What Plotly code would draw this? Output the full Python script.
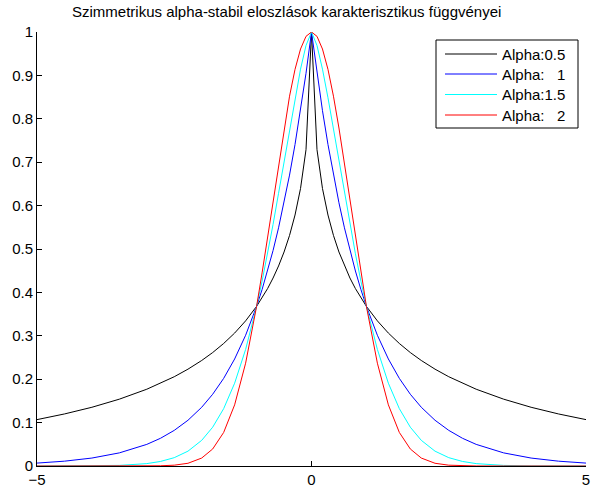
import plotly.graph_objects as go

# Data
t = [-5, -4.5, -4, -3.5, -3, -2.75, -2.5, -2.25, -2, -1.8, -1.6, -1.4, -1.2,
     -1, -0.9, -0.8, -0.7, -0.6, -0.5, -0.4, -0.3, -0.2, -0.1, 0,
     0.1, 0.2, 0.3, 0.4, 0.5, 0.6, 0.7, 0.8, 0.9, 1,
     1.2, 1.4, 1.6, 1.8, 2, 2.25, 2.5, 2.75, 3, 3.5, 4, 4.5, 5]

alpha_05 = [0.1069, 0.1199, 0.1353, 0.1540, 0.1769, 0.1905, 0.2057, 0.2231, 0.2431,
            0.2614, 0.2823, 0.3063, 0.3344, 0.3679, 0.3872, 0.4088, 0.4331, 0.4609,
            0.4931, 0.5313, 0.5783, 0.6394, 0.7289, 1.0,
            0.7289, 0.6394, 0.5783, 0.5313, 0.4931, 0.4609, 0.4331, 0.4088, 0.3872,
            0.3679, 0.3344, 0.3063, 0.2823, 0.2614, 0.2431, 0.2231, 0.2057, 0.1905,
            0.1769, 0.1540, 0.1353, 0.1199, 0.1069]

alpha_1 = [0.0067, 0.0111, 0.0183, 0.0302, 0.0498, 0.0639, 0.0821, 0.1054, 0.1353,
           0.1653, 0.2019, 0.2466, 0.3012, 0.3679, 0.4066, 0.4493, 0.4966, 0.5488,
           0.6065, 0.6703, 0.7408, 0.8187, 0.9048, 1.0,
           0.9048, 0.8187, 0.7408, 0.6703, 0.6065, 0.5488, 0.4966, 0.4493, 0.4066,
           0.3679, 0.3012, 0.2466, 0.2019, 0.1653, 0.1353, 0.1054, 0.0821, 0.0639,
           0.0498, 0.0302, 0.0183, 0.0111, 0.0067]

alpha_15 = [0.0000, 0.0001, 0.0003, 0.0014, 0.0055, 0.0105, 0.0192, 0.0342, 0.0591,
            0.0894, 0.1321, 0.1908, 0.2686, 0.3679, 0.4258, 0.4890, 0.5567, 0.6283,
            0.7022, 0.7765, 0.8485, 0.9144, 0.9689, 1.0,
            0.9689, 0.9144, 0.8485, 0.7765, 0.7022, 0.6283, 0.5567, 0.4890, 0.4258,
            0.3679, 0.2686, 0.1908, 0.1321, 0.0894, 0.0591, 0.0342, 0.0192, 0.0105,
            0.0055, 0.0014, 0.0003, 0.0001, 0.0000]

alpha_2 = [0.0, 0.0, 0.0, 0.0, 0.0001, 0.0005, 0.0019, 0.0063, 0.0183,
           0.0392, 0.0773, 0.1409, 0.2369, 0.3679, 0.4449, 0.5273, 0.6126, 0.6977,
           0.7788, 0.8521, 0.9139, 0.9608, 0.9900, 1.0,
           0.9900, 0.9608, 0.9139, 0.8521, 0.7788, 0.6977, 0.6126, 0.5273, 0.4449,
           0.3679, 0.2369, 0.1409, 0.0773, 0.0392, 0.0183, 0.0063, 0.0019, 0.0005,
           0.0001, 0.0, 0.0, 0.0, 0.0]

names = ["Alpha:0.5", "Alpha:\u00a0\u00a0\u00a01", "Alpha:1.5", "Alpha:\u00a0\u00a0\u00a02"]
series = [alpha_05, alpha_1, alpha_15, alpha_2]
colors = ["#000000", "#0000FF", "#00FFFF", "#FF0000"]

x_ticks = [-5, 0, 5]
y_ticks = [0, 0.1, 0.2, 0.3, 0.4, 0.5, 0.6, 0.7, 0.8, 0.9, 1]
y_tick_labels = ["0", "0.1", "0.2", "0.3", "0.4", "0.5", "0.6", "0.7", "0.8", "0.9", "1"]

title = "Szimmetrikus alpha-stabil eloszlások karakterisztikus függvényei"

FONT = "Liberation Sans, Arial, sans-serif"

W, H = 592, 488
PL, PR, PT, PB = 37, 586, 32, 466          # plot box in pixels
L, T = PL, PT
R = W - PR
B = H - PB
pw = W - L - R
ph = H - T - B


def px(xs):
    return (xs - PL) / pw


def py(ys):
    return (PB - ys) / ph


fig = go.Figure()
for name, ys, c in zip(names, series, colors):
    fig.add_trace(go.Scatter(x=t, y=ys, mode="lines", name=name,
                             line=dict(color=c, width=1), showlegend=False,
                             hoverinfo="skip"))

# Legend drawn as a box with sample lines and labels
shapes = [dict(type="rect", xref="paper", yref="paper",
               x0=px(436), x1=px(578), y0=py(128), y1=py(40),
               line=dict(color="black", width=1), fillcolor="white", layer="above")]
annotations = [dict(
    text=title, xref="paper", yref="paper",
    x=px(286), y=py(12), xanchor="center", yanchor="middle",
    showarrow=False, font=dict(family=FONT, size=15, color="black"),
)]
row_y = [54, 74, 94.5, 115]
for name, c, ry in zip(names, colors, row_y):
    shapes.append(dict(type="line", xref="paper", yref="paper",
                       x0=px(445), x1=px(497), y0=py(ry), y1=py(ry),
                       line=dict(color=c, width=1), layer="above"))
    annotations.append(dict(text=name, xref="paper", yref="paper",
                            x=px(500), y=py(ry), xanchor="left", yanchor="middle",
                            showarrow=False,
                            font=dict(family=FONT, size=15, color="black")))

fig.update_layout(
    width=W, height=H,
    margin=dict(l=L, r=R, t=T, b=B, pad=0, autoexpand=False),
    paper_bgcolor="white", plot_bgcolor="white",
    font=dict(family=FONT, size=14, color="black"),
    showlegend=False,
    hovermode=False,
    shapes=shapes,
    annotations=annotations,
)

fig.update_xaxes(
    range=[-5, 5], tickmode="array", tickvals=x_ticks,
    ticks="inside", ticklen=5, tickcolor="black", tickwidth=1,
    showline=True, linecolor="black", linewidth=1, mirror=False,
    showgrid=False, zeroline=False, automargin=False,
    tickfont=dict(family=FONT, size=15, color="black"),
)
fig.update_yaxes(
    range=[0, 1], tickmode="array", tickvals=y_ticks, ticktext=y_tick_labels,
    ticks="inside", ticklen=5, tickcolor="black", tickwidth=1,
    showline=True, linecolor="black", linewidth=1, mirror=False,
    showgrid=False, zeroline=False, automargin=False,
    tickfont=dict(family=FONT, size=15, color="black"),
)

fig.write_html(
    "out.html",
    config={"displayModeBar": False},
    post_script="document.body.style.margin='0';document.body.style.overflow='hidden';",
)
